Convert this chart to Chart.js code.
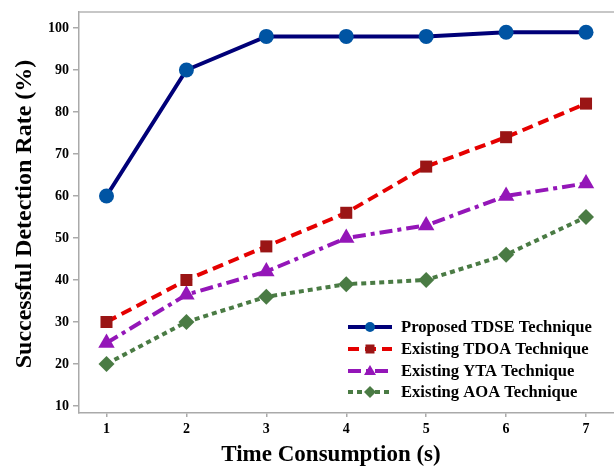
<!DOCTYPE html>
<html>
<head>
<meta charset="utf-8">
<style>
  html, body { margin: 0; padding: 0; background: #fff; }
</style>
</head>
<body>
<canvas id="myChart" width="614" height="468"></canvas>
<script src="https://cdn.jsdelivr.net/npm/chart.js@4"></script>
<script>
const times = [1, 2, 3, 4, 5, 6, 7];
const tdse = [60, 90, 98, 98, 98, 99, 99];
const tdoa = [30, 40, 48, 56, 67, 74, 82];
const yta = [25, 36.5, 42, 50, 53, 60, 63];
const aoa = [20, 30, 36, 39, 40, 46, 55];
const yTicks = [10, 20, 30, 40, 50, 60, 70, 80, 90, 100];
const seriesNames = ['Proposed TDSE Technique', 'Existing TDOA Technique', 'Existing YTA Technique', 'Existing AOA Technique'];

function points(vals) {
    return times.map((t, i) => ({x: t, y: vals[i]}));
}

const serif = '"Liberation Serif", "Times New Roman", serif';

// legend, top border and axis titles drawn on top of the chart
const extras = {
    id: 'extras',
    afterDraw(chart) {
        const ctx = chart.ctx;
        const a = chart.chartArea;
        ctx.save();
        ctx.strokeStyle = '#b4b4b4';
        ctx.lineWidth = 1.5;
        ctx.beginPath();
        ctx.moveTo(a.left, a.top);
        ctx.lineTo(a.right, a.top);
        ctx.stroke();

        ctx.fillStyle = '#000';
        ctx.textAlign = 'center';
        ctx.textBaseline = 'middle';
        ctx.font = 'bold 23px ' + serif;
        ctx.fillText('Time Consumption (s)', 331, 455);
        ctx.save();
        ctx.translate(25, 214);
        ctx.rotate(-Math.PI / 2);
        ctx.font = 'bold 24px ' + serif;
        ctx.fillText('Successful Detection Rate (%)', 0, 0);
        ctx.restore();

        // legend
        const rowY = [327, 349, 371, 392];
        chart.data.datasets.forEach((ds, i) => {
            const y = rowY[i];
            ctx.strokeStyle = ds.borderColor;
            ctx.lineWidth = 4;
            ctx.setLineDash(ds.borderDash || []);
            ctx.beginPath();
            ctx.moveTo(348, y);
            ctx.lineTo(392, y);
            ctx.stroke();
            ctx.setLineDash([]);
            ctx.fillStyle = ds.pointBackgroundColor;
            const cx = 370;
            ctx.beginPath();
            if (ds.pointStyle === 'circle') {
                ctx.arc(cx, y, 5, 0, Math.PI * 2);
            } else if (ds.pointStyle === 'rect') {
                ctx.rect(cx - 4.5, y - 4.5, 9, 9);
            } else if (ds.pointStyle === 'triangle') {
                ctx.moveTo(cx, y - 6);
                ctx.lineTo(cx + 6, y + 4);
                ctx.lineTo(cx - 6, y + 4);
                ctx.closePath();
            } else {
                ctx.moveTo(cx, y - 6);
                ctx.lineTo(cx + 6, y);
                ctx.lineTo(cx, y + 6);
                ctx.lineTo(cx - 6, y);
                ctx.closePath();
            }
            ctx.fill();
            ctx.fillStyle = '#000';
            ctx.textAlign = 'left';
            ctx.font = 'bold 16.6px ' + serif;
            ctx.fillText(seriesNames[i], 401, y + 1);
        });
        ctx.restore();
    }
};

const ctx = document.getElementById('myChart').getContext('2d');
let myChart = new Chart(ctx, {
    type: 'line',
    data: {
        datasets: [{
            label: seriesNames[0],
            data: points(tdse),
            borderColor: '#000078',
            borderWidth: 4,
            pointStyle: 'circle',
            pointRadius: 7.5,
            pointBackgroundColor: '#0054a3',
            pointBorderWidth: 0,
            order: 0
        }, {
            label: seriesNames[1],
            data: points(tdoa),
            borderColor: '#e50000',
            borderWidth: 4,
            borderDash: [11, 6],
            pointStyle: 'rect',
            pointRadius: 8.5,
            pointBackgroundColor: '#9a1515',
            pointBorderWidth: 0,
            order: 1
        }, {
            label: seriesNames[2],
            data: points(yta),
            borderColor: '#9416b8',
            borderWidth: 4,
            borderDash: [13, 5, 4, 5],
            pointStyle: 'triangle',
            pointRadius: 9.5,
            pointBackgroundColor: '#9416b8',
            pointBorderWidth: 0,
            order: 2
        }, {
            label: seriesNames[3],
            data: points(aoa),
            borderColor: '#4a7b44',
            borderWidth: 4,
            borderDash: [5, 4],
            pointStyle: 'rectRot',
            pointRadius: 8,
            pointBackgroundColor: '#4a7b44',
            pointBorderWidth: 0,
            order: 3
        }]
    },
    options: {
        responsive: false,
        animation: false,
        layout: { autoPadding: false, padding: { top: 12, right: 0, left: 0, bottom: 0 } },
        plugins: {
            legend: { display: false },
            tooltip: { enabled: false }
        },
        scales: {
            x: {
                type: 'linear',
                min: 0.656,
                max: 7.35,
                afterBuildTicks: (scale) => { scale.ticks = times.map(v => ({value: v})); },
                afterFit: (scale) => { scale.height = 55; scale.paddingRight = 0; scale.paddingLeft = 0; },
                border: { color: '#aaaaaa', width: 1.5 },
                grid: { drawOnChartArea: false, color: '#aaaaaa', lineWidth: 1.5, tickLength: 4 },
                ticks: { color: '#000', padding: 4, font: { family: serif, size: 14, weight: 'bold' } }
            },
            y: {
                min: 8.33,
                max: 103.81,
                afterBuildTicks: (scale) => { scale.ticks = yTicks.map(v => ({value: v})); },
                afterFit: (scale) => { scale.width = 79; scale.paddingTop = 0; scale.paddingBottom = 0; },
                border: { color: '#aaaaaa', width: 1.5 },
                grid: { drawOnChartArea: false, color: '#aaaaaa', lineWidth: 1.5, tickLength: 6 },
                ticks: { color: '#000', padding: 4, font: { family: serif, size: 14, weight: 'bold' } }
            }
        }
    },
    plugins: [extras]
});
</script>
</body>
</html>
